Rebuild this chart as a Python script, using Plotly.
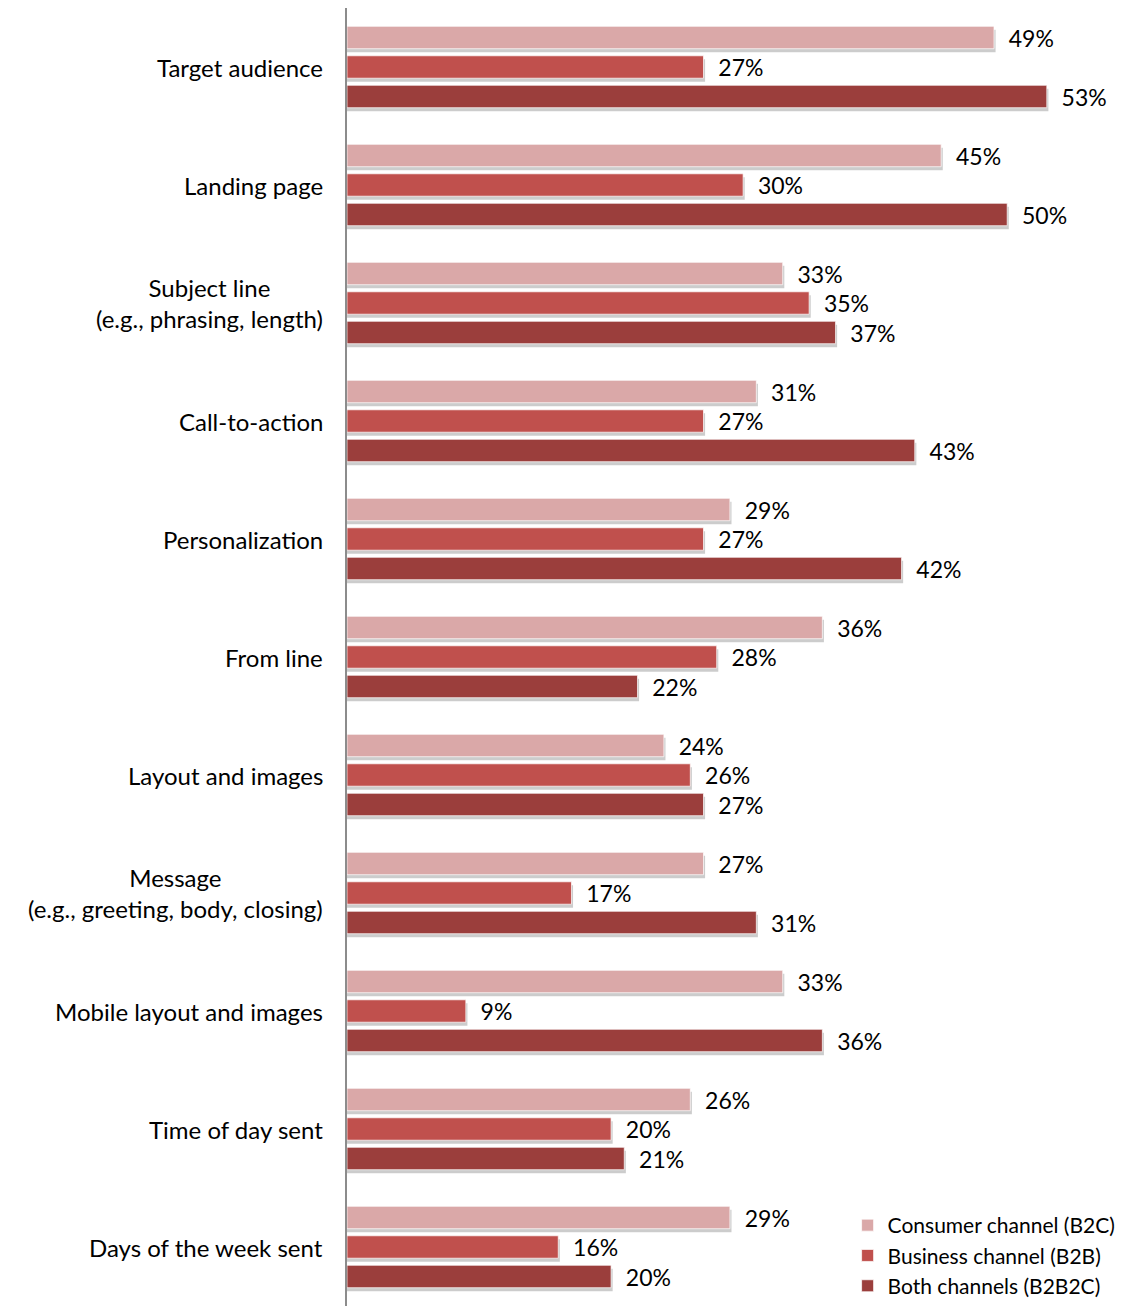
import plotly.graph_objects as go

categories = ["Target audience", "Landing page", "Subject line<br>(e.g., phrasing, length)",
              "Call-to-action", "Personalization", "From line", "Layout and images",
              "Message<br>(e.g., greeting, body, closing)", "Mobile layout and images",
              "Time of day sent", "Days of the week sent"]
b2c = [49, 45, 33, 31, 29, 36, 24, 27, 33, 26, 29]
b2b = [27, 30, 35, 27, 27, 28, 26, 17, 9, 20, 16]
b2b2c = [53, 50, 37, 43, 42, 22, 27, 31, 36, 21, 20]
series_names = ["Consumer channel (B2C)", "Business channel (B2B)", "Both channels (B2B2C)"]
colors = ["#DAA8A8", "#C0504D", "#9B3E3C"]

pos = list(range(len(categories)))
font = "Lato, Open Sans, sans-serif"
bar_w = 0.19

fig = go.Figure()
series = [b2c, b2b, b2b2c]

# soft drop shadows first
for k, vals in enumerate(series):
    off = (k - 1) * 0.25 - bar_w / 2
    fig.add_trace(go.Bar(
        y=pos, x=[v + 0.12 for v in vals], orientation="h",
        width=bar_w, offset=off + 0.03,
        marker=dict(color="rgba(0,0,0,0.2)", line=dict(width=0)),
        showlegend=False, hoverinfo="skip"))

for k, vals in enumerate(series):
    off = (k - 1) * 0.25 - bar_w / 2
    fig.add_trace(go.Bar(
        y=pos, x=vals, orientation="h", name=series_names[k],
        width=bar_w, offset=off,
        marker=dict(color=colors[k], line=dict(color="rgba(255,255,255,0.7)", width=1)),
        text=[f"\u00a0\u00a0{v}%" for v in vals], textposition="outside", constraintext="none",
        textfont=dict(family=font, size=23, color="#000"), cliponaxis=False))

for i, c in enumerate(categories):
    fig.add_annotation(x=0, xref="paper", y=i, yref="y", text=c, showarrow=False,
                       xanchor="right", xshift=-22, align="center",
                       font=dict(family=font, size=24, color="#000"))

fig.update_layout(
    width=1122, height=1298, margin=dict(l=339, r=0, t=0, b=0),
    plot_bgcolor="white", paper_bgcolor="white", barmode="overlay",
    showlegend=True,
    legend=dict(x=0.988, xanchor="right", y=0.0, yanchor="bottom", traceorder="normal",
                font=dict(family=font, size=21, color="#000"), bgcolor="rgba(0,0,0,0)",
                itemwidth=30, tracegroupgap=0),
)
fig.update_xaxes(range=[0, 59.3], visible=False)
fig.update_yaxes(range=[10.5, -0.5], showticklabels=False, showgrid=False, zeroline=False,
                 showline=True, linecolor="#8C8C8C", linewidth=2)

fig.write_html("out.html")
